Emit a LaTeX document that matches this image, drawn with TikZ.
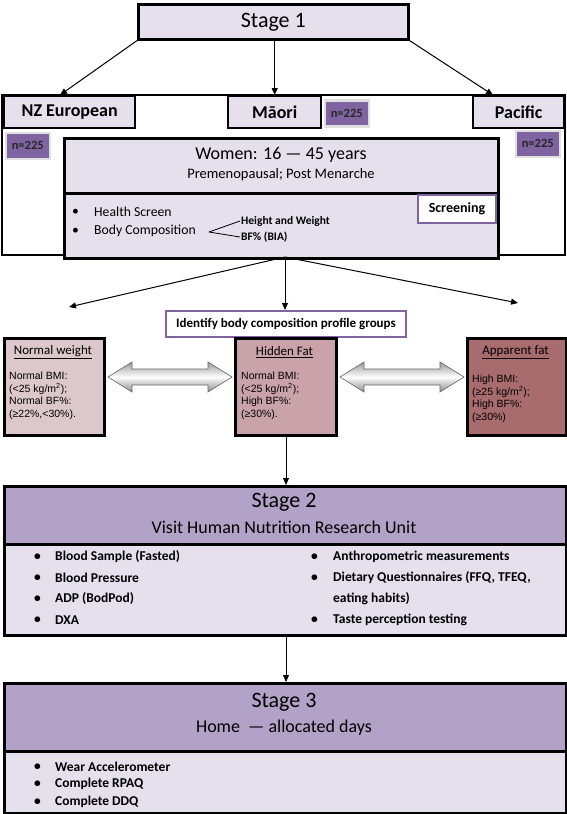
\documentclass[tikz,border=0pt]{standalone}
\usepackage{fontspec}
\setmainfont{Carlito}
\newfontfamily\arialf{Liberation Sans}
\usetikzlibrary{arrows.meta,shadows,calc}
\definecolor{lav}{HTML}{E5E0EC}
\definecolor{stagec}{HTML}{B3A2C7}
\definecolor{purp}{HTML}{8064A2}
\definecolor{nwc}{HTML}{DCC8CB}
\definecolor{hfc}{HTML}{C9A2AA}
\definecolor{afc}{HTML}{A86B6E}
\begin{document}
\begin{tikzpicture}[x=1pt,y=-1pt,
  box/.style={draw=black,line width=2.6pt,fill=lav,inner sep=0pt,anchor=north west},
  ebox/.style={box,line width=2.4pt,font=\bfseries\fontsize{18}{20}\selectfont},
  nbox/.style={fill=purp,draw=white!88!black,line width=2.5pt,inner sep=0pt,anchor=north west,
     drop shadow={shadow xshift=1.5pt,shadow yshift=-1.5pt,fill=black!35},
     font=\bfseries\fontsize{12.5}{14}\selectfont,text=black!85},
  pbox/.style={draw=purp,line width=2pt,fill=white,inner sep=0pt,anchor=north west,
     font=\bfseries\fontsize{13}{15}\selectfont},
  gbox/.style={draw=black,line width=3pt,inner sep=0pt,anchor=north west},
  gtitle/.style={inner sep=0pt,font=\fontsize{13}{15}\selectfont},
  gtxt/.style={inner sep=0pt,anchor=north west,align=left,font=\arialf\fontsize{10.5}{12.5}\selectfont},
  wtxt/.style={inner sep=0pt,anchor=west,font=\fontsize{13.7}{16}\selectfont},
  btxt/.style={inner sep=0pt,anchor=west,font=\bfseries\fontsize{13.5}{16}\selectfont},
  arr/.style={line width=1pt,-{Triangle[length=7pt,width=6pt]}},
  dbl/.style={draw=black!60,line width=0.6pt,top color=black!40,bottom color=black!45,middle color=white},
  stitle/.style={inner sep=0pt,font=\fontsize{22}{26}\selectfont},
  ssub/.style={inner sep=0pt,font=\fontsize{18}{21}\selectfont}
]
\useasboundingbox (0,0) rectangle (567,814);

% outer frame of stage 1
\draw[line width=1.2pt] (2,95) rectangle (565,255);

% stage 1
\node[box,minimum width=270,minimum height=35,font=\fontsize{22}{26}\selectfont] (s1) at (137,3) {Stage 1};

% ethnic groups
\node[ebox,minimum width=131,minimum height=32] (nz) at (3,95) {NZ European};
\node[ebox,minimum width=93,minimum height=32] (mao) at (227,95) {Māori};
\node[ebox,minimum width=91,minimum height=32] (pac) at (472,95) {Pacific};

\node[nbox,minimum width=44,minimum height=26] (nnz) at (4.5,131.5) {n=225};
\node[nbox,minimum width=44,minimum height=26] (nmao) at (323.5,99) {n=225};
\node[nbox,minimum width=44,minimum height=26] (npac) at (514.5,129.5) {n=225};

\coordinate (anz) at (60,95);
\coordinate (apac) at (493,95);
\draw[arr] (s1.south west) -- (anz);
\draw[arr] (s1.south -| mao.north) -- (mao.north);
\draw[arr] (s1.south east) -- (apac);

% women box
\node[box,minimum width=434,minimum height=55] (wt) at (63,137) {};
\node[box,minimum width=434,minimum height=65] (wb) at (63,192) {};
\node[inner sep=0pt,font=\fontsize{18}{21}\selectfont] (wtitle) at (281,155) {Women: 16 — 45 years};
\node[inner sep=0pt,font=\fontsize{14.5}{17}\selectfont] (wsub) at (281,175) {Premenopausal; Post Menarche};
\node[wtxt] (b1) at (72,212) {\textbullet};
\node[wtxt] (hs) at (94,212) {Health Screen};
\node[wtxt] (b2) at (72,231) {\textbullet};
\node[wtxt] (bc) at (94,231) {Body Composition};
\node[inner sep=1pt,anchor=west,font=\bfseries\fontsize{11.5}{13}\selectfont] (hw) at (240,221) {Height and Weight};
\node[inner sep=1pt,anchor=west,font=\bfseries\fontsize{11.5}{13}\selectfont] (bfn) at (240,237) {BF\% (BIA)};
\coordinate (fork) at (209,232);
\draw[line width=0.8pt] (fork) -- (hw.west);
\draw[line width=0.8pt] (fork) -- (bfn.west);
\node[pbox,minimum width=78,minimum height=28,font=\bfseries\fontsize{14}{16}\selectfont] (scr) at (417,194) {Screening};

% fan arrows
\node[pbox,minimum width=240,minimum height=26] (idb) at (165,310) {Identify body composition profile groups};
\coordinate (fan) at (285,257);
\coordinate (fl) at (69,307);
\coordinate (fr) at (518,303);
\draw[arr] (fan) -- (fl);
\draw[arr] (fan) -- (fan |- idb.north);
\draw[arr] (fan) -- (fr);

% groups
\node[gbox,fill=nwc,minimum width=100,minimum height=97] (nw) at (3,337) {};
\node[gbox,fill=hfc,minimum width=101,minimum height=97] (hf) at (234,337) {};
\node[gbox,fill=afc,minimum width=99,minimum height=97] (af) at (466,337) {};
\node[gtitle] (nwt) at (53,352) {\underline{Normal weight}};
\node[gtitle] (hft) at (284.5,352) {\underline{Hidden Fat}};
\node[gtitle] (aft) at (515.5,352) {\underline{Apparent fat}};
\node[gtxt] (nwx) at (9,372) {Normal BMI:\\(<25 kg/m\textsuperscript{2});\\Normal BF\%:\\(≥22\%,<30\%).};
\node[gtxt] (hfx) at (241,372) {Normal BMI:\\(<25 kg/m\textsuperscript{2});\\High BF\%:\\(≥30\%).};
\node[gtxt] (afx) at (472,375) {High BMI:\\(≥25 kg/m\textsuperscript{2});\\High BF\%:\\(≥30\%)};

\path[dbl] let \p1=($(nw.east |- 0,377)+(2pt,0)$), \p2=($(hf.west |- 0,377)+(-2pt,0)$) in
  (\x1,\y1) -- (\x1+24pt,\y1+15pt) -- (\x1+24pt,\y1+8pt) -- (\x2-24pt,\y1+8pt) -- (\x2-24pt,\y1+15pt)
  -- (\x2,\y1) -- (\x2-24pt,\y1-15pt) -- (\x2-24pt,\y1-8pt) -- (\x1+24pt,\y1-8pt) -- (\x1+24pt,\y1-15pt) -- cycle;
\path[dbl] let \p1=($(hf.east |- 0,377)+(2pt,0)$), \p2=($(af.west |- 0,377)+(-2pt,0)$) in
  (\x1,\y1) -- (\x1+24pt,\y1+15pt) -- (\x1+24pt,\y1+8pt) -- (\x2-24pt,\y1+8pt) -- (\x2-24pt,\y1+15pt)
  -- (\x2,\y1) -- (\x2-24pt,\y1-15pt) -- (\x2-24pt,\y1-8pt) -- (\x1+24pt,\y1-8pt) -- (\x1+24pt,\y1-15pt) -- cycle;

% stage 2
\node[box,fill=stagec,minimum width=562,minimum height=58] (s2h) at (3,485) {};
\node[box,minimum width=562,minimum height=91] (s2b) at (3,543) {};
\draw[arr] (hf.south) -- (hf.south |- s2h.north);
\node[stitle] (s2t) at (284,502) {Stage 2};
\node[ssub] (s2s) at (284,527) {Visit Human Nutrition Research Unit};
\node[btxt] (l1b) at (34,557) {\textbullet};
\node[btxt] (l1) at (55,557) {Blood Sample (Fasted)};
\node[btxt] (l2b) at (34,578) {\textbullet};
\node[btxt] (l2) at (55,578) {Blood Pressure};
\node[btxt] (l3b) at (34,599) {\textbullet};
\node[btxt] (l3) at (55,599) {ADP (BodPod)};
\node[btxt] (l4b) at (34,620) {\textbullet};
\node[btxt] (l4) at (55,620) {DXA};
\node[btxt] (r1b) at (311,557) {\textbullet};
\node[btxt] (r1) at (333,557) {Anthropometric measurements};
\node[btxt] (r2b) at (311,578) {\textbullet};
\node[btxt] (r2) at (333,578) {Dietary Questionnaires (FFQ, TFEQ,};
\node[btxt] (r2c) at (333,599) {eating habits)};
\node[btxt] (r3b) at (311,620) {\textbullet};
\node[btxt] (r3) at (333,620) {Taste perception testing};

% stage 3
\node[box,fill=stagec,minimum width=562,minimum height=68] (s3h) at (3,682) {};
\node[box,minimum width=562,minimum height=62] (s3b) at (3,750) {};
\draw[arr] (s2b.south -| hf.south) -- (hf.south |- s3h.north);
\node[stitle] (s3t) at (284,702) {Stage 3};
\node[ssub] (s3s) at (284,728) {Home\ \ — allocated days};
\node[btxt] (t1b) at (34,767) {\textbullet};
\node[btxt] (t1) at (55,767) {Wear Accelerometer};
\node[btxt] (t2b) at (34,784) {\textbullet};
\node[btxt] (t2) at (55,784) {Complete RPAQ};
\node[btxt] (t3b) at (34,802) {\textbullet};
\node[btxt] (t3) at (55,802) {Complete DDQ};
\end{tikzpicture}
\end{document}
